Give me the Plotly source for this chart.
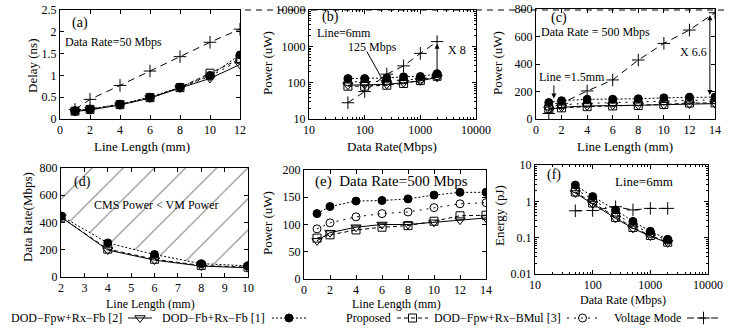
import plotly.graph_objects as go
import math

# ---------------- data ----------------
# (a) delay vs line length, 50 Mbps
line_len_a = [1, 2, 4, 6, 8, 10, 12]
delay_dod_fpw = [0.17, 0.21, 0.32, 0.48, 0.71, 0.93, 1.25]
delay_dod_fb = [0.19, 0.23, 0.34, 0.50, 0.73, 1.00, 1.47]
delay_proposed = [0.18, 0.22, 0.33, 0.49, 0.72, 1.05, 1.38]
delay_bmul = [0.18, 0.22, 0.33, 0.49, 0.72, 0.98, 1.35]
delay_vm = [0.22, 0.45, 0.77, 1.10, 1.43, 1.76, 2.06]

# (b) power vs data rate, line 6mm
rate_b = [50, 100, 250, 500, 1000, 2000]
pow_rate_dod_fpw = [85, 88, 90, 100, 112, 140]
pow_rate_dod_fb = [130, 130, 135, 145, 148, 175]
pow_rate_proposed = [80, 80, 85, 95, 115, 150]
pow_rate_bmul = [105, 105, 110, 120, 125, 155]
pow_rate_vm = [28, 57, 172, 290, 640, 1350]

# (c)/(e) power vs line length, 500 Mbps
line_len_c = [1, 2, 4, 6, 8, 10, 12, 14]
pow_len_dod_fpw = [70, 85, 95, 100, 100, 104, 108, 112]
pow_len_dod_fb = [120, 133, 143, 144, 147, 154, 159, 159]
pow_len_proposed = [75, 81, 90, 95, 98, 106, 116, 117]
pow_len_bmul = [92, 103, 114, 120, 123, 131, 138, 140]
pow_len_vm = [40, 114, 204, 284, 429, 550, 647, 773]

# (d) crossover data rate vs line length
line_len_d = [2, 4, 6, 8, 10]
cross_dod_fb = [448, 250, 165, 98, 82]
cross_proposed = [440, 205, 130, 85, 72]
cross_dod_fpw = [440, 198, 124, 80, 68]
d_top = 800

# (f) energy vs data rate, line 6mm
rate_f = [50, 100, 250, 500, 1000, 2000]
energy_dod_fpw = [1.7, 0.85, 0.34, 0.18, 0.11, 0.072]
energy_dod_fb = [2.8, 1.35, 0.58, 0.28, 0.15, 0.09]
energy_proposed = [1.8, 0.9, 0.36, 0.19, 0.115, 0.075]
energy_bmul = [2.2, 1.1, 0.45, 0.23, 0.13, 0.085]
energy_vm = [0.55, 0.56, 0.71, 0.58, 0.64, 0.64]

series_names = ["DOD\u2212Fpw+Rx\u2212Fb [2]", "DOD\u2212Fb+Rx\u2212Fb [1]", "Proposed",
                "DOD\u2212Fpw+Rx\u2212BMul [3]", "Voltage Mode"]

# ---------------- styles ----------------
FONT = "Liberation Serif"
W, H = 751, 333
STY = {
    "fpw": dict(symbol="triangle-down-open", dash="solid", size=9),
    "fb": dict(symbol="circle", dash="2px,2px", size=8),
    "prop": dict(symbol="square-open", dash="4px,3px", size=8),
    "bmul": dict(symbol="circle-open", dash="2px,5px", size=8),
    "vm": dict(symbol="cross-thin-open", dash="7px,5px", size=9),
}

fig = go.Figure()


def add(xs, ys, key, n, fill=None):
    s = STY[key]
    xa = "x" if n == 1 else f"x{n}"
    ya = "y" if n == 1 else f"y{n}"
    kw = {}
    if fill:
        kw = dict(fill="tonexty", fillcolor="rgba(255,255,255,0)",
                  fillpattern=dict(shape="/", fgcolor="black", bgcolor="rgba(255,255,255,0)",
                                   size=22, solidity=0.05, fillmode="overlay"))
    fig.add_trace(go.Scatter(
        x=xs, y=ys, xaxis=xa, yaxis=ya, mode="lines+markers", showlegend=False,
        line=dict(color="black", width=1, dash=s["dash"]),
        marker=dict(symbol=s["symbol"], size=s["size"], color="black",
                    line=dict(color="black", width=1)), **kw))


# (a)
add(line_len_a, delay_vm, "vm", 1)
add(line_len_a, delay_bmul, "bmul", 1)
add(line_len_a, delay_proposed, "prop", 1)
add(line_len_a, delay_dod_fpw, "fpw", 1)
add(line_len_a, delay_dod_fb, "fb", 1)
# (b)
add(rate_b, pow_rate_vm, "vm", 2)
add(rate_b, pow_rate_bmul, "bmul", 2)
add(rate_b, pow_rate_proposed, "prop", 2)
add(rate_b, pow_rate_dod_fpw, "fpw", 2)
add(rate_b, pow_rate_dod_fb, "fb", 2)
# (c)
add(line_len_c, pow_len_vm, "vm", 3)
add(line_len_c, pow_len_bmul, "bmul", 3)
add(line_len_c, pow_len_proposed, "prop", 3)
add(line_len_c, pow_len_dod_fpw, "fpw", 3)
add(line_len_c, pow_len_dod_fb, "fb", 3)
# (d) hatched region above top curve
fig.add_trace(go.Scatter(x=line_len_d, y=[d_top] * len(line_len_d), xaxis="x4", yaxis="y4",
                         mode="lines", line=dict(width=0), showlegend=False))
add(line_len_d, cross_dod_fb, "fb", 4, fill=True)
add(line_len_d, cross_proposed, "prop", 4)
add(line_len_d, cross_dod_fpw, "fpw", 4)
# (e)
add(line_len_c, pow_len_bmul, "bmul", 5)
add(line_len_c, pow_len_proposed, "prop", 5)
add(line_len_c, pow_len_dod_fpw, "fpw", 5)
add(line_len_c, pow_len_dod_fb, "fb", 5)
# (f)
add(rate_f, energy_vm, "vm", 6)
add(rate_f, energy_bmul, "bmul", 6)
add(rate_f, energy_proposed, "prop", 6)
add(rate_f, energy_dod_fpw, "fpw", 6)
add(rate_f, energy_dod_fb, "fb", 6)

# ---------------- legend (gnuplot style: text then sample) ----------------
leg_keys = ["fpw", "fb", "prop", "bmul", "vm"]
leg_y = 318
leg_samples = [(128, 152), (272, 306), (397, 428), (567, 598), (687, 720)]
leg_text_right = [124, 267, 393, 563, 683]
for key, (x0, x1), tr, name in zip(leg_keys, leg_samples, leg_text_right, series_names):
    s = STY[key]
    fig.add_trace(go.Scatter(x=[x0, x1], y=[leg_y, leg_y], xaxis="x7", yaxis="y7", mode="lines",
                             line=dict(color="black", width=1, dash=s["dash"]), showlegend=False))
    fig.add_trace(go.Scatter(x=[(x0 + x1) / 2], y=[leg_y], xaxis="x7", yaxis="y7", mode="markers",
                             marker=dict(symbol=s["symbol"], size=s["size"], color="black",
                                         line=dict(color="black", width=1)), showlegend=False))
    fig.add_annotation(x=tr / W, y=1 - leg_y / H, xref="paper", yref="paper", text=name,
                       showarrow=False, xanchor="right", yanchor="middle",
                       font=dict(family=FONT, size=12, color="black"))

# ---------------- axes ----------------
def dom_x(a, b):
    return [a / W, b / W]


def dom_y(top, bottom):
    return [1 - bottom / H, 1 - top / H]


tfont = dict(family=FONT, size=12, color="black")


def ax(domain, anchor, **kw):
    d = dict(domain=domain, anchor=anchor, showline=True, linecolor="black", linewidth=1,
             mirror="allticks", ticks="inside", ticklen=4, tickcolor="black", showgrid=False,
             zeroline=False, tickfont=tfont, automargin=False, fixedrange=True)
    d.update(kw)
    return d


log_kw = dict(type="log", dtick=1, tickformat="~g",
              minor=dict(ticks="inside", ticklen=2, tickcolor="black", dtick="D1", showgrid=False))

fig.update_layout(
    width=W, height=H, margin=dict(l=0, r=0, t=0, b=0, autoexpand=False),
    paper_bgcolor="white", plot_bgcolor="rgba(0,0,0,0)", showlegend=False,
    font=dict(family=FONT, color="black"),
    xaxis=ax(dom_x(60, 240), "y", range=[0, 12], dtick=2),
    yaxis=ax(dom_y(10, 119), "x", range=[0, 2.5], dtick=0.5),
    xaxis2=ax(dom_x(309, 476), "y2", range=[1, 4], **log_kw),
    yaxis2=ax(dom_y(10, 119), "x2", range=[1, 4], **log_kw),
    xaxis3=ax(dom_x(536, 715), "y3", range=[0, 14], dtick=2),
    yaxis3=ax(dom_y(9, 119), "x3", range=[0, 800], dtick=200),
    xaxis4=ax(dom_x(61, 248), "y4", range=[2, 10], dtick=1),
    yaxis4=ax(dom_y(168, 277), "x4", range=[0, 800], dtick=200),
    xaxis5=ax(dom_x(304, 486), "y5", range=[0, 14], dtick=2),
    yaxis5=ax(dom_y(170, 279), "x5", range=[0, 200], dtick=50),
    xaxis6=ax(dom_x(535, 708), "y6", range=[1, 4], **log_kw),
    yaxis6=ax(dom_y(165, 274), "x6", range=[-2, 1], **log_kw),
    xaxis7=dict(domain=[0, 1], anchor="y7", range=[0, W], visible=False, fixedrange=True),
    yaxis7=dict(domain=[0, 1], anchor="x7", range=[H, 0], visible=False, fixedrange=True),
)

# ---------------- axis titles (placed like the original) ----------------
def paper_text(px, py, text, size=13, angle=0):
    fig.add_annotation(x=px / W, y=1 - py / H, xref="paper", yref="paper", text=text,
                       showarrow=False, textangle=angle, xanchor="center", yanchor="middle",
                       font=dict(family=FONT, size=size, color="black"))


paper_text(142, 147, "Line Length (mm)")
paper_text(33, 66, "Delay (ns)", angle=-90)
paper_text(392, 147, "Data Rate(Mbps)")
paper_text(267, 63, "Power (uW)", angle=-90)
paper_text(625, 147, "Line Length (mm)")
paper_text(497, 63, "Power (uW)", angle=-90)
paper_text(150, 304, "Line Length (mm)", 12)
paper_text(27, 217, "Data Rate(Mbps)", angle=-90)
paper_text(396, 304, "Line Length (mm)", 12)
paper_text(267, 223, "Power (uW)", angle=-90)
paper_text(623, 300, "Data Rate (Mbps)", 12)
paper_text(499, 215, "Energy (pJ)", angle=-90)

# ---------------- in-panel annotations ----------------
def note(n, fx, fy, text, size=12, xanchor="left"):
    xr = "x domain" if n == 1 else f"x{n} domain"
    yr = "y domain" if n == 1 else f"y{n} domain"
    fig.add_annotation(x=fx, y=fy, xref=xr, yref=yr, text=text, showarrow=False,
                       xanchor=xanchor, yanchor="middle",
                       font=dict(family=FONT, size=size, color="black"))


def arrow(n, x, y, axv, ayv, both=False):
    xr = "x" if n == 1 else f"x{n}"
    yr = "y" if n == 1 else f"y{n}"
    fig.add_annotation(x=x, y=y, ax=axv, ay=ayv, xref=xr, yref=yr, axref=xr, ayref=yr,
                       text="", showarrow=True, arrowhead=2, arrowsize=1, arrowwidth=1,
                       arrowcolor="black", arrowside="end+start" if both else "end",
                       startarrowhead=2, startarrowsize=1)


note(1, 0.056, 0.88, "(a)", 14)
note(1, 0.017, 0.706, "Data Rate=50 Mbps", 12)
note(2, 0.066, 0.936, "(b)", 14)
note(2, 0.036, 0.79, "Line=6mm", 12)
note(2, 0.38, 0.66, "125 Mbps", 12, "center")
note(2, 0.82, 0.63, "X 8", 12)
note(3, 0.073, 0.918, "(c)", 14)
note(3, 0.017, 0.79, "Data Rate = 500 Mbps", 12)
note(3, 0.006, 0.38, "Line =1.5mm", 12)
note(3, 0.965, 0.61, "X 6.6", 12, "right")
note(4, 0.059, 0.87, "(d)", 14)
note(4, 0.51, 0.66, "CMS Power &lt; VM Power", 12, "center")
note(5, 0.05, 0.89, "(e)  Data Rate=500 Mbps", 15)
note(6, 0.058, 0.908, "(f)", 14)
note(6, 0.45, 0.853, "Line=6mm", 13)

arrow(2, math.log10(232), math.log10(92), math.log10(105), math.log10(800))
arrow(2, math.log10(2000), math.log10(165), math.log10(2000), math.log10(1300), both=True)
arrow(3, 1.4, 150, 1.4, 255)
arrow(3, 13.6, 175, 13.6, 765, both=True)

# dashed rule along the top
fig.add_shape(type="line", xref="paper", yref="paper", x0=245 / W, x1=727 / W,
              y0=1 - 10 / H, y1=1 - 10 / H, line=dict(color="black", width=1, dash="6px,5px"))

# the page's default body margin would shift the figure; remove it
fig.write_html("out.html", config={"displayModeBar": False},
               post_script="document.body.style.margin='0';document.body.style.padding='0';"
                           "document.body.style.overflow='hidden';")
